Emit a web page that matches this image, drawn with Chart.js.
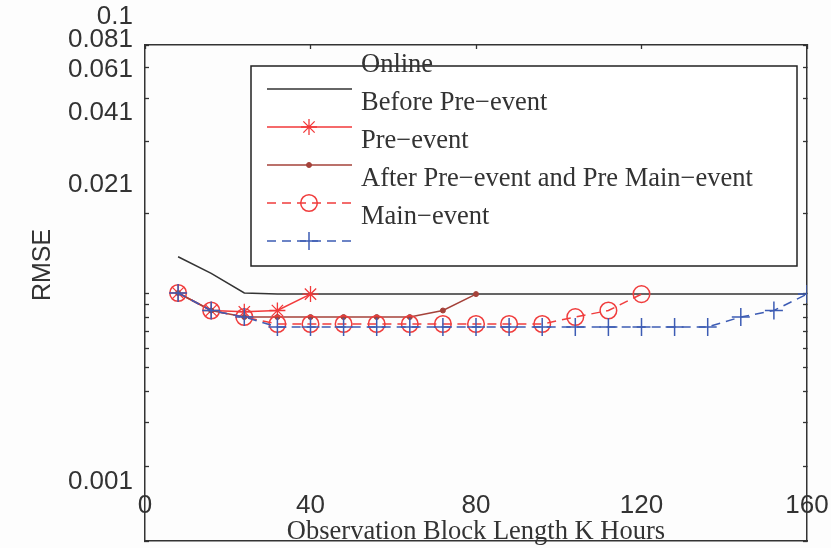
<!DOCTYPE html>
<html>
<head>
<meta charset="utf-8">
<script src="https://cdn.jsdelivr.net/npm/chart.js@4.4.1/dist/chart.umd.min.js"></script>
<style>
  html, body { margin: 0; padding: 0; background: #fdfdfd; }
</style>
</head>
<body>
<canvas id="rmse-chart" width="831" height="548"></canvas>
<script>
// Observation block length (hours)
const hours = [8, 16, 24, 32, 40, 48, 56, 64, 72, 80, 88, 96, 104, 112, 120, 128, 136, 144, 152, 160];

// RMSE per series
const online = [0.0140, 0.0120, 0.0100, 0.0099, 0.0099, 0.0099, 0.0099, 0.0099, 0.0099, 0.0099,
                0.0099, 0.0099, 0.0099, 0.0099, 0.0099, 0.0099, 0.0099, 0.0099, 0.0099, 0.0099];
const beforePre = [0.0100, 0.0085, 0.0084, 0.0085, 0.0099];
const preEvent = [0.0100, 0.0085, 0.0080, 0.0080, 0.0080, 0.0080, 0.0080, 0.0080, 0.0085, 0.0099];
const afterPre = [0.0100, 0.0085, 0.0080, 0.0075, 0.0075, 0.0075, 0.0075, 0.0075, 0.0075, 0.0075,
                  0.0075, 0.0075, 0.0080, 0.0085, 0.0099];
const mainEvent = [0.0100, 0.0085, 0.0080, 0.0073, 0.0073, 0.0073, 0.0073, 0.0073, 0.0073, 0.0073,
                   0.0073, 0.0073, 0.0073, 0.0073, 0.0073, 0.0073, 0.0073, 0.0080, 0.0085, 0.0099];

const seriesLabels = ['Online', 'Before Pre\u2212event', 'Pre\u2212event',
                      'After Pre\u2212event and Pre Main\u2212event', 'Main\u2212event'];

// Axis ticks
const xTicks = [0, 40, 80, 120, 160];
const yTicks = [0.001, 0.002, 0.003, 0.004, 0.005, 0.006, 0.007, 0.008, 0.009, 0.01,
                0.021, 0.041, 0.061, 0.081, 0.1];
const yTickLabels = [['0.001', '', ''], '', '', '', '', '', '', '', '', '',
                     '0.021', '0.041', '0.061', '0.081', '0.1'];

const axisColor = '#333';
const sansFont = 'Liberation Sans, Arial, sans-serif';
const serifFont = 'Liberation Serif, Times New Roman, serif';

function toPoints(values) {
  return values.map((v, i) => ({ x: hours[i], y: v }));
}

// Legend drawn like the original figure (text sits half a row above its sample)
const figureLegend = {
  id: 'figureLegend',
  afterDraw(chart) {
    const ctx = chart.ctx;
    ctx.save();
    ctx.fillStyle = '#ffffff';
    ctx.fillRect(251, 66, 546, 200);
    ctx.strokeStyle = '#222';
    ctx.lineWidth = 1.5;
    ctx.strokeRect(251, 66, 546, 200);

    chart.data.datasets.forEach((ds, i) => {
      const y = 89 + i * 38;
      ctx.save();
      ctx.strokeStyle = ds.borderColor;
      ctx.lineWidth = ds.borderWidth;
      ctx.setLineDash(ds.borderDash || []);
      ctx.beginPath();
      ctx.moveTo(267, y);
      ctx.lineTo(352, y);
      ctx.stroke();
      ctx.setLineDash([]);
      if (ds.pointRadius > 0) {
        ctx.strokeStyle = ds.borderColor;
        ctx.fillStyle = ds.pointBackgroundColor;
        ctx.lineWidth = ds.pointBorderWidth;
        Chart.helpers.drawPoint(ctx, {
          pointStyle: ds.pointStyle,
          radius: ds.pointRadius,
          rotation: 0,
          borderWidth: ds.pointBorderWidth
        }, 309, y);
      }
      ctx.restore();
      ctx.fillStyle = '#333';
      ctx.font = '26.5px ' + serifFont;
      ctx.textAlign = 'left';
      ctx.textBaseline = 'alphabetic';
      ctx.fillText(ds.label, 361, y - 17);
    });

    // y axis title
    ctx.translate(43, 265);
    ctx.rotate(-Math.PI / 2);
    ctx.fillStyle = '#333';
    ctx.font = '25px ' + sansFont;
    ctx.textAlign = 'center';
    ctx.textBaseline = 'middle';
    ctx.fillText('RMSE', 0, 0);
    ctx.restore();
  }
};

const chartCanvas = document.getElementById('rmse-chart');

const rmseChart = new Chart(chartCanvas, {
  type: 'line',
  data: {
    datasets: [
      {
        label: seriesLabels[0], data: toPoints(online),
        borderColor: '#333', borderWidth: 1.5, pointRadius: 0, order: 5
      },
      {
        label: seriesLabels[1], data: toPoints(beforePre),
        borderColor: '#f2393a', borderWidth: 1.5, pointStyle: 'star', pointRadius: 8,
        pointBorderWidth: 1.3, pointBackgroundColor: '#f2393a', order: 4
      },
      {
        label: seriesLabels[2], data: toPoints(preEvent),
        borderColor: '#a5423a', borderWidth: 1.5, pointStyle: 'circle', pointRadius: 2.5,
        pointBorderWidth: 1, pointBackgroundColor: '#a5423a', order: 3
      },
      {
        label: seriesLabels[3], data: toPoints(afterPre),
        borderColor: '#f03d3d', borderWidth: 1.5, borderDash: [9, 6], pointStyle: 'circle',
        pointRadius: 8.3, pointBorderWidth: 1.5, pointBackgroundColor: 'rgba(0,0,0,0)', order: 2
      },
      {
        label: seriesLabels[4], data: toPoints(mainEvent),
        borderColor: '#3d5cb4', borderWidth: 1.5, borderDash: [9, 6], pointStyle: 'cross',
        pointRadius: 9, pointBorderWidth: 1.5, pointBackgroundColor: '#3d5cb4', order: 1
      }
    ]
  },
  options: {
    responsive: false,
    animation: false,
    devicePixelRatio: 1,
    layout: { autoPadding: false, padding: { left: 0, right: 24, top: 45, bottom: 0 } },
    plugins: {
      legend: { display: false },
      tooltip: { enabled: false }
    },
    scales: {
      x: {
        type: 'linear',
        position: 'bottom',
        min: 0,
        max: 160,
        afterBuildTicks: (scale) => { scale.ticks = xTicks.map(v => ({ value: v })); },
        ticks: {
          mirror: true,
          padding: 20,
          autoSkip: false,
          maxRotation: 0,
          color: axisColor,
          font: { family: sansFont, size: 26 }
        },
        grid: { drawOnChartArea: false, drawTicks: false },
        border: { color: axisColor, width: 1.5 },
        title: {
          display: true,
          text: 'Observation Block Length K Hours',
          color: '#333',
          font: { family: serifFont, size: 26.5 },
          padding: { top: 0, bottom: 0 }
        },
        afterFit: (scale) => {
          scale.height = 7;
          scale.paddingLeft = 0;
          scale.paddingRight = 0;
        }
      },
      x2: {
        type: 'linear',
        position: 'top',
        min: 0,
        max: 160,
        afterBuildTicks: (scale) => { scale.ticks = xTicks.map(v => ({ value: v })); },
        ticks: { display: false },
        grid: { drawOnChartArea: false, tickLength: -4, color: axisColor, tickWidth: 1.3 },
        border: { color: axisColor, width: 1.5 },
        afterFit: (scale) => { scale.height = 0; }
      },
      y: {
        type: 'logarithmic',
        position: 'left',
        min: 0.001,
        max: 0.1,
        afterBuildTicks: (scale) => { scale.ticks = yTicks.map(v => ({ value: v })); },
        ticks: {
          callback: (value, index) => yTickLabels[index],
          padding: 16,
          labelOffset: -28,
          autoSkip: false,
          color: axisColor,
          font: { family: sansFont, size: 26 }
        },
        grid: { drawOnChartArea: false, tickLength: -4, color: axisColor, tickWidth: 1.3 },
        border: { color: axisColor, width: 1.5 },
        afterFit: (scale) => {
          scale.width = 145;
          scale.paddingTop = 0;
          scale.paddingBottom = 0;
        }
      },
      y2: {
        type: 'logarithmic',
        position: 'right',
        min: 0.001,
        max: 0.1,
        afterBuildTicks: (scale) => { scale.ticks = yTicks.map(v => ({ value: v })); },
        ticks: { display: false },
        grid: { drawOnChartArea: false, tickLength: -4, color: axisColor, tickWidth: 1.3 },
        border: { color: axisColor, width: 1.5 },
        afterFit: (scale) => { scale.width = 0; }
      }
    }
  },
  plugins: [figureLegend]
});
</script>
</body>
</html>
